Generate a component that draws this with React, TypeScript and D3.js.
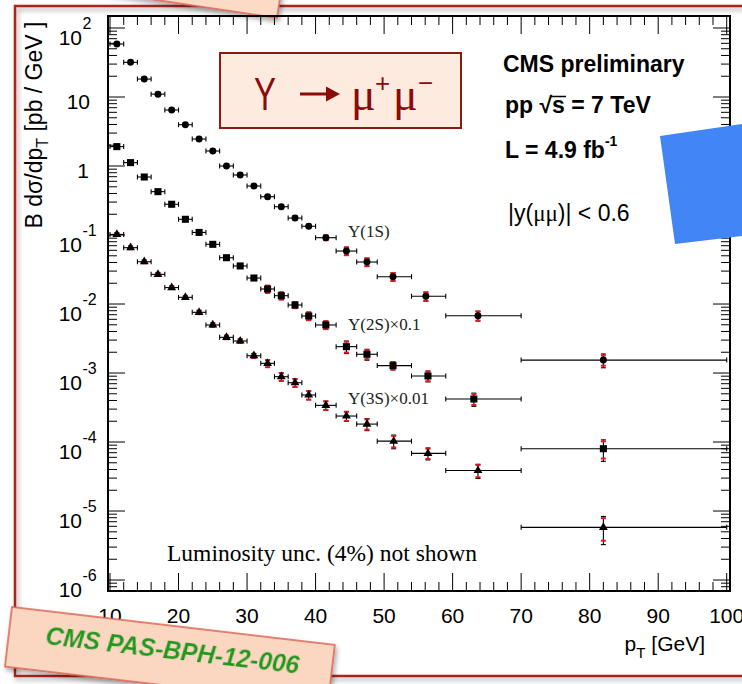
import React from "react";
import * as d3 from "d3";

// ---- data ----
const ptLo = [10, 12, 14, 16, 18, 20, 22, 24, 26, 28, 30, 32, 34, 36, 38, 40, 43, 46, 49, 54, 59, 70];
const ptHi = [12, 14, 16, 18, 20, 22, 24, 26, 28, 30, 32, 34, 36, 38, 40, 43, 46, 49, 54, 59, 70, 100];

const pt1S = [11, 13, 15, 17, 19, 21, 23, 25, 27, 29, 31, 33, 35, 37, 39, 41.5, 44.5, 47.5, 51.3, 56.1, 63.7, 82.0];
const pt2S = [11, 13, 15, 17, 19, 21, 23, 25, 27, 29, 31, 33, 35, 37, 39, 41.5, 44.5, 47.5, 51.3, 56.4, 63.1, 82.0];
const pt3S = [11, 13, 15, 17, 19, 21, 23, 25, 27, 29, 31, 33, 35, 37, 39, 41.5, 44.5, 47.5, 51.4, 56.4, 63.7, 82.0];

const xsec1S = [58.6, 31.8, 18.2, 11.0, 6.48, 3.97, 2.46, 1.65, 1.0, 0.741, 0.513, 0.359, 0.257, 0.176, 0.134,
  0.0914, 0.0586, 0.0406, 0.0249, 0.01295, 0.00677, 0.00154];
const xsec2S = [1.91, 1.12, 0.693, 0.425, 0.279, 0.169, 0.109, 0.0733, 0.0469, 0.0356, 0.0238, 0.0165, 0.0132,
  0.00968, 0.0067, 0.00497, 0.00241, 0.00187, 0.00128, 0.000906, 0.00042, 0.00008];
const xsec3S = [0.102, 0.0655, 0.041, 0.0269, 0.0173, 0.0125, 0.00758, 0.00497, 0.00329, 0.00291, 0.00178,
  0.00138, 0.000884, 0.000723, 0.00048, 0.00034, 0.000238, 0.000182, 0.000103, 0.0000685, 0.0000386, 0.0000058];

// relative uncertainties (stat -> black, syst -> red)
const stat1S = [0.01, 0.01, 0.01, 0.01, 0.01, 0.01, 0.01, 0.01, 0.01, 0.01, 0.01, 0.02, 0.02, 0.02, 0.02, 0.03, 0.03, 0.04, 0.04, 0.05, 0.06, 0.15];
const syst1S = [0.05, 0.05, 0.05, 0.05, 0.05, 0.05, 0.05, 0.05, 0.05, 0.05, 0.05, 0.06, 0.06, 0.06, 0.06, 0.08, 0.13, 0.13, 0.13, 0.14, 0.15, 0.17];
const stat2S = [0.01, 0.01, 0.01, 0.01, 0.01, 0.02, 0.02, 0.02, 0.02, 0.02, 0.03, 0.03, 0.03, 0.04, 0.04, 0.05, 0.10, 0.10, 0.06, 0.08, 0.12, 0.20];
const syst2S = [0.05, 0.05, 0.05, 0.05, 0.05, 0.05, 0.05, 0.05, 0.06, 0.06, 0.06, 0.12, 0.12, 0.10, 0.13, 0.13, 0.18, 0.15, 0.12, 0.16, 0.18, 0.28];
const stat3S = [0.02, 0.02, 0.02, 0.02, 0.02, 0.02, 0.02, 0.02, 0.03, 0.03, 0.03, 0.04, 0.04, 0.05, 0.05, 0.06, 0.07, 0.10, 0.12, 0.10, 0.12, 0.25];
const syst3S = [0.05, 0.05, 0.05, 0.05, 0.05, 0.05, 0.06, 0.06, 0.06, 0.06, 0.07, 0.12, 0.13, 0.13, 0.14, 0.14, 0.15, 0.17, 0.19, 0.17, 0.20, 0.36];

const seriesLabels = ["Υ(1S)", "Υ(2S)×0.1", "Υ(3S)×0.01"];
const xTickValues = [10, 20, 30, 40, 50, 60, 70, 80, 90, 100];
const yTickExponents = [-6, -5, -4, -3, -2, -1, 0, 1, 2];

const SANS = "'Liberation Sans', Arial, Helvetica, sans-serif";
const SERIF = "'Liberation Serif', 'Times New Roman', serif";

export default function App() {
  const W = 742, H = 684;
  const L = 108, R = 730, T = 16, B = 591;
  const x = d3.scaleLinear().domain([9.708, 100.48]).range([L, R]);
  const y = d3.scaleLog().domain([Math.pow(10, -6.159), Math.pow(10, 2.174)]).range([B, T]);

  const xMinor = d3.range(10, 101, 2).filter((v) => v % 10 !== 0);
  const yMinor: number[] = [];
  for (let k = -7; k <= 2; k++) {
    for (let m = 2; m <= 9; m++) {
      const v = m * Math.pow(10, k);
      const [d0, d1] = y.domain();
      if (v > d0 && v < d1) yMinor.push(v);
    }
  }

  const series = [
    { pt: pt1S, v: xsec1S, stat: stat1S, syst: syst1S, sym: d3.symbolCircle, size: 38 },
    { pt: pt2S, v: xsec2S, stat: stat2S, syst: syst2S, sym: d3.symbolSquare, size: 50 },
    { pt: pt3S, v: xsec3S, stat: stat3S, syst: syst3S, sym: d3.symbolTriangle, size: 34 },
  ];

  const cap = 2.5;

  return (
    <svg width={W} height={H} style={{ position: "absolute", left: 0, top: 0, background: "#fff" }}>
      <defs>
        <filter id="sh" x="-10%" y="-10%" width="130%" height="140%">
          <feDropShadow dx="2" dy="3" stdDeviation="2.5" floodColor="#000" floodOpacity="0.35" />
        </filter>
      </defs>
      <rect x={0} y={0} width={W} height={H} fill="#fff" />

      {/* slide frame */}
      <rect x={15} y={6} width={800} height={670} fill="none" stroke="#a8281c" strokeWidth={2.5} filter="url(#sh)" />

      {/* top sticky */}
      <g transform="translate(277,18) rotate(8.5)" filter="url(#sh)">
        <rect x={-340} y={-70} width={340} height={70} fill="#fcdac6" stroke="#d9604e" strokeWidth={1.5} />
      </g>

      {/* plot frame ticks */}
      <g stroke="#000" strokeWidth={1}>
        {xTickValues.map((v) => (
          <g key={"xt" + v}>
            <line x1={x(v)} x2={x(v)} y1={B} y2={B - 18} />
            <line x1={x(v)} x2={x(v)} y1={T} y2={T + 18} />
          </g>
        ))}
        {xMinor.map((v) => (
          <g key={"xm" + v}>
            <line x1={x(v)} x2={x(v)} y1={B} y2={B - 9} />
            <line x1={x(v)} x2={x(v)} y1={T} y2={T + 9} />
          </g>
        ))}
        {yTickExponents.map((k) => {
          const yy = y(Math.pow(10, k));
          return (
            <g key={"yt" + k}>
              <line x1={L} x2={L + 17} y1={yy} y2={yy} />
              <line x1={R} x2={R - 17} y1={yy} y2={yy} />
            </g>
          );
        })}
        {yMinor.map((v, i) => (
          <g key={"ym" + i}>
            <line x1={L} x2={L + 9} y1={y(v)} y2={y(v)} />
            <line x1={R} x2={R - 9} y1={y(v)} y2={y(v)} />
          </g>
        ))}
      </g>
      <rect x={L} y={T} width={R - L} height={B - T} fill="none" stroke="#000" strokeWidth={2} />

      {/* x tick labels */}
      {xTickValues.map((v) => (
        <text key={"xl" + v} x={x(v)} y={623} textAnchor="middle" fontFamily={SANS} fontSize={21}>
          {String(v)}
        </text>
      ))}

      {/* y tick labels */}
      {yTickExponents.map((k) => {
        const yy = y(Math.pow(10, k));
        if (k === 0)
          return (
            <text key={"yl" + k} x={89} y={yy + 11.5} textAnchor="end" fontFamily={SANS} fontSize={21}>1</text>
          );
        if (k === 1)
          return (
            <text key={"yl" + k} x={90} y={yy + 11.5} textAnchor="end" fontFamily={SANS} fontSize={21}>10</text>
          );
        return (
          <g key={"yl" + k} fontFamily={SANS}>
            <text x={82} y={yy + 17} textAnchor="end" fontSize={21}>10</text>
            <text x={82.5} y={yy + 1} fontSize={16}>{k < 0 ? "-" + -k : String(k)}</text>
          </g>
        );
      })}

      {/* axis titles */}
      <text transform="translate(42,125) rotate(-90)" textAnchor="middle" fontFamily={SANS} fontSize={23}>
        B dσ/dp<tspan dy={6} fontSize={16}>T</tspan>
        <tspan dy={-6}> [pb / GeV ]</tspan>
      </text>
      <text x={705} y={651} textAnchor="end" fontFamily={SANS} fontSize={21}>
        p<tspan dy={7} fontSize={15}>T</tspan>
        <tspan dy={-7}> [GeV]</tspan>
      </text>

      {/* data */}
      {series.map((s, si) => (
        <g key={"s" + si}>
          {s.v.map((v, i) => {
            const tot = Math.sqrt(s.stat[i] * s.stat[i] + s.syst[i] * s.syst[i]);
            const cx = x(s.pt[i]);
            const cy = y(v);
            const yu = y(v * (1 + tot));
            const yd = y(v * (1 - tot));
            const ru = y(v * (1 + s.syst[i]));
            const rd = y(v * (1 - s.syst[i]));
            const x0 = x(ptLo[i]);
            const x1 = x(ptHi[i]);
            return (
              <g key={i}>
                <g stroke="#000" strokeWidth={1.1}>
                  <line x1={x0} x2={x1} y1={cy} y2={cy} />
                  <line x1={x0} x2={x0} y1={cy - cap} y2={cy + cap} />
                  <line x1={x1} x2={x1} y1={cy - cap} y2={cy + cap} />
                  <line x1={cx} x2={cx} y1={yu} y2={yd} />
                  <line x1={cx - cap} x2={cx + cap} y1={yu} y2={yu} />
                  <line x1={cx - cap} x2={cx + cap} y1={yd} y2={yd} />
                </g>
                <g stroke="#e8141e" strokeWidth={2}>
                  <line x1={cx - cap} x2={cx + cap} y1={ru} y2={ru} />
                  <line x1={cx - cap} x2={cx + cap} y1={rd} y2={rd} />
                </g>
                <path
                  d={d3.symbol().type(s.sym).size(s.size)() || ""}
                  transform={`translate(${cx},${cy})`}
                  fill="#000"
                />
              </g>
            );
          })}
        </g>
      ))}

      {/* series labels */}
      <g fontFamily={SERIF} fontSize={17} fill="#222">
        <text x={348} y={237}>{seriesLabels[0]}</text>
        <text x={348} y={330}>{seriesLabels[1]}</text>
        <text x={348} y={404}>{seriesLabels[2]}</text>
      </g>

      <text x={167} y={561} fontFamily={SERIF} fontSize={23.5}>Luminosity unc. (4%) not shown</text>

      {/* title box */}
      <rect x={220} y={53} width={241} height={75} fill="#fdebdf" stroke="#8b1a10" strokeWidth={2} />
      <g fill="#8b0a0a">
        <text x={254} y={110} fontFamily={SANS} fontSize={46} textLength={22} lengthAdjust="spacingAndGlyphs">Υ</text>
        <line x1={300} x2={330} y1={94} y2={94} stroke="#8b0a0a" strokeWidth={3} />
        <path d="M326,86.5 L340,94 L326,101.5 Z" />
        <text x={351} y={110} fontFamily={SERIF} fontSize={46}>μ</text>
        <text x={375} y={92} fontFamily={SANS} fontSize={26}>+</text>
        <text x={393} y={110} fontFamily={SERIF} fontSize={46}>μ</text>
        <text x={418} y={92} fontFamily={SANS} fontSize={26}>−</text>
      </g>

      {/* right text block */}
      <g fontFamily={SANS} fontSize={23} fill="#000">
        <text x={503} y={72} fontWeight="bold">CMS preliminary</text>
        <text x={505} y={113} fontWeight="bold">pp √s = 7 TeV</text>
        <line x1={550} x2={566} y1={96.5} y2={96.5} stroke="#000" strokeWidth={1.5} />
        <text x={505} y={158} fontWeight="bold">
          L = 4.9 fb<tspan dy={-12} fontSize={14}>-1</tspan>
        </text>
        <text x={508} y={221}>
          |y(<tspan fontFamily={SERIF}>μμ</tspan>)| &lt; 0.6
        </text>
      </g>

      {/* blue patch */}
      <polygon points="660,136 742,124 742,236 675,244" fill="#4285f4" />

      {/* bottom stamp */}
      <g transform="translate(12,607) rotate(6.7)" filter="url(#sh)">
        <rect x={0} y={0} width={325} height={60} fill="#fbd6c0" stroke="#d9604e" strokeWidth={1.5} />
        <text x={37} y={33} fontFamily={SANS} fontWeight="bold" fontStyle="italic" fontSize={25}
          fill="#1d9a1d" textLength={255} lengthAdjust="spacingAndGlyphs">
          CMS PAS-BPH-12-006
        </text>
      </g>
    </svg>
  );
}
